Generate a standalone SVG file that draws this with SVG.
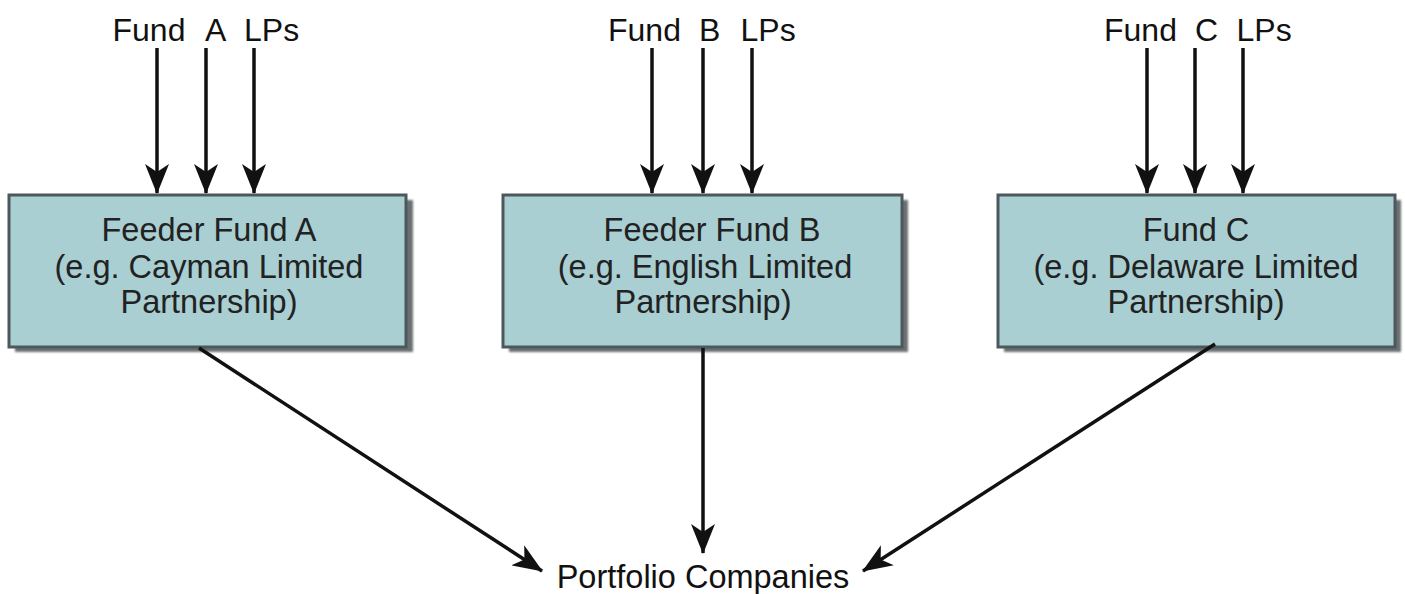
<svg xmlns="http://www.w3.org/2000/svg" width="1405" height="594" viewBox="0 0 1405 594">
<defs>
<marker id="ah" viewBox="0 0 30 24" refX="29" refY="12" markerWidth="30" markerHeight="24" markerUnits="userSpaceOnUse" orient="auto">
<path d="M0,0 L30,12 L0,24 L8,12 Z" fill="#111"/>
</marker>
<filter id="sh" x="-5%" y="-5%" width="115%" height="120%">
<feGaussianBlur stdDeviation="1.2"/>
</filter>
</defs>
<style>
.box{fill:#a9cfd3;stroke:#4d585c;stroke-width:3}
.shadow{fill:#6b6f72;filter:url(#sh)}
.bt{font-family:"Liberation Sans",Arial,sans-serif;font-size:32.5px;fill:#222;text-anchor:middle}
.lbl{font-family:"Liberation Sans",Arial,sans-serif;font-size:32px;fill:#111}
.conn{stroke:#111;stroke-width:3.5;fill:none;marker-end:url(#ah)}
</style>
<rect width="1405" height="594" fill="#fff"/>

<g id="lpsA">
<text class="lbl" x="112.5" y="41">Fund</text>
<text class="lbl" x="205" y="41">A</text>
<text class="lbl" x="244" y="41">LPs</text>
</g>
<g id="lpsB">
<text class="lbl" x="608" y="41">Fund</text>
<text class="lbl" x="699" y="41">B</text>
<text class="lbl" x="740.5" y="41">LPs</text>
</g>
<g id="lpsC">
<text class="lbl" x="1104" y="41">Fund</text>
<text class="lbl" x="1195" y="41">C</text>
<text class="lbl" x="1236.5" y="41">LPs</text>
</g>

<g id="feederA">
<rect class="shadow" x="15" y="200" width="398" height="152"/>
<rect class="box" x="9" y="195" width="397" height="152"/>
<text class="bt" x="209" y="241">Feeder Fund A</text>
<text class="bt" x="209" y="278">(e.g. Cayman Limited</text>
<text class="bt" x="209" y="313">Partnership)</text>
</g>
<g id="feederB">
<rect class="shadow" x="509" y="200" width="399" height="152"/>
<rect class="box" x="503" y="195" width="399" height="152"/>
<text class="bt" x="712" y="241">Feeder Fund B</text>
<text class="bt" x="705" y="278">(e.g. English Limited</text>
<text class="bt" x="703" y="313">Partnership)</text>
</g>
<g id="fundC">
<rect class="shadow" x="1004" y="200" width="397" height="152"/>
<rect class="box" x="998" y="195" width="397" height="152"/>
<text class="bt" x="1196" y="241">Fund C</text>
<text class="bt" x="1196" y="278">(e.g. Delaware Limited</text>
<text class="bt" x="1196" y="313">Partnership)</text>
</g>

<g id="portfolio">
<text class="lbl" x="703" y="588" text-anchor="middle" style="font-size:32.5px">Portfolio Companies</text>
</g>

<g id="connectors">
<line class="conn" x1="157" y1="48" x2="157" y2="193"/>
<line class="conn" x1="206" y1="48" x2="206" y2="193"/>
<line class="conn" x1="254" y1="48" x2="254" y2="193"/>
<line class="conn" x1="652" y1="48" x2="652" y2="193"/>
<line class="conn" x1="703" y1="48" x2="703" y2="193"/>
<line class="conn" x1="752" y1="48" x2="752" y2="193"/>
<line class="conn" x1="1147" y1="48" x2="1147" y2="193"/>
<line class="conn" x1="1195" y1="48" x2="1195" y2="193"/>
<line class="conn" x1="1243" y1="48" x2="1243" y2="193"/>
<line class="conn" x1="199" y1="348" x2="542" y2="571"/>
<line class="conn" x1="703" y1="348" x2="703" y2="553"/>
<line class="conn" x1="1215" y1="344" x2="863" y2="571"/>
</g>
</svg>
